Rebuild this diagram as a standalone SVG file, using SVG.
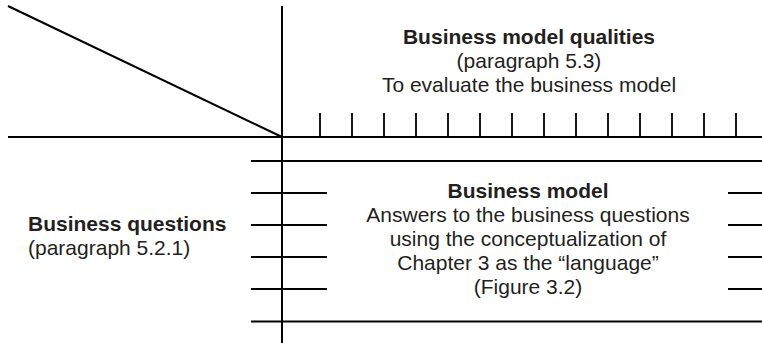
<svg xmlns="http://www.w3.org/2000/svg" width="762" height="343" viewBox="0 0 762 343">
<style>
.ln{stroke:#000;stroke-width:2;fill:none}
.tk{stroke:#000;stroke-width:1.8;fill:none}
.t{font-family:"Liberation Sans",Arial,sans-serif;font-size:21px;fill:#231f20}
.b{font-weight:bold}
.c{text-anchor:middle}
</style>
<rect width="762" height="343" fill="#fff"/>
<g id="connectors">
<line class="ln" x1="8" y1="6" x2="282" y2="137"/>
<line class="ln" x1="282" y1="6" x2="282" y2="343"/>
<line class="ln" x1="8" y1="137" x2="762" y2="137"/>
<g id="quality-ticks" class="tk">
<path d="M320 113V137M352 113V137M384 113V137M416 113V137M448 113V137M480 113V137M512 113V137M544 113V137M576 113V137M608 113V137M640 113V137M672 113V137M704 113V137M736 113V137"/>
</g>
<line class="tk" x1="251" y1="161" x2="762" y2="161"/>
<line class="tk" x1="251" y1="321.5" x2="762" y2="321.5"/>
<path class="tk" d="M251 193H327M251 225H327M251 257H327M251 289H327"/>
<path class="tk" d="M728 193H762M728 225H762M728 257H762M728 289H762"/>
</g>
<g id="qualities">
<text class="t b c" x="529" y="44">Business model qualities</text>
<text class="t c" x="529" y="68">(paragraph 5.3)</text>
<text class="t c" x="529" y="92">To evaluate the business model</text>
</g>
<g id="business-model">
<text class="t b c" x="528" y="198">Business model</text>
<text class="t c" x="528" y="222">Answers to the business questions</text>
<text class="t c" x="528" y="246">using the conceptualization of</text>
<text class="t c" x="528" y="270">Chapter 3 as the “language”</text>
<text class="t c" x="528" y="294">(Figure 3.2)</text>
</g>
<g id="business-questions">
<text class="t b" x="28" y="231">Business questions</text>
<text class="t" x="28" y="255">(paragraph 5.2.1)</text>
</g>
</svg>
